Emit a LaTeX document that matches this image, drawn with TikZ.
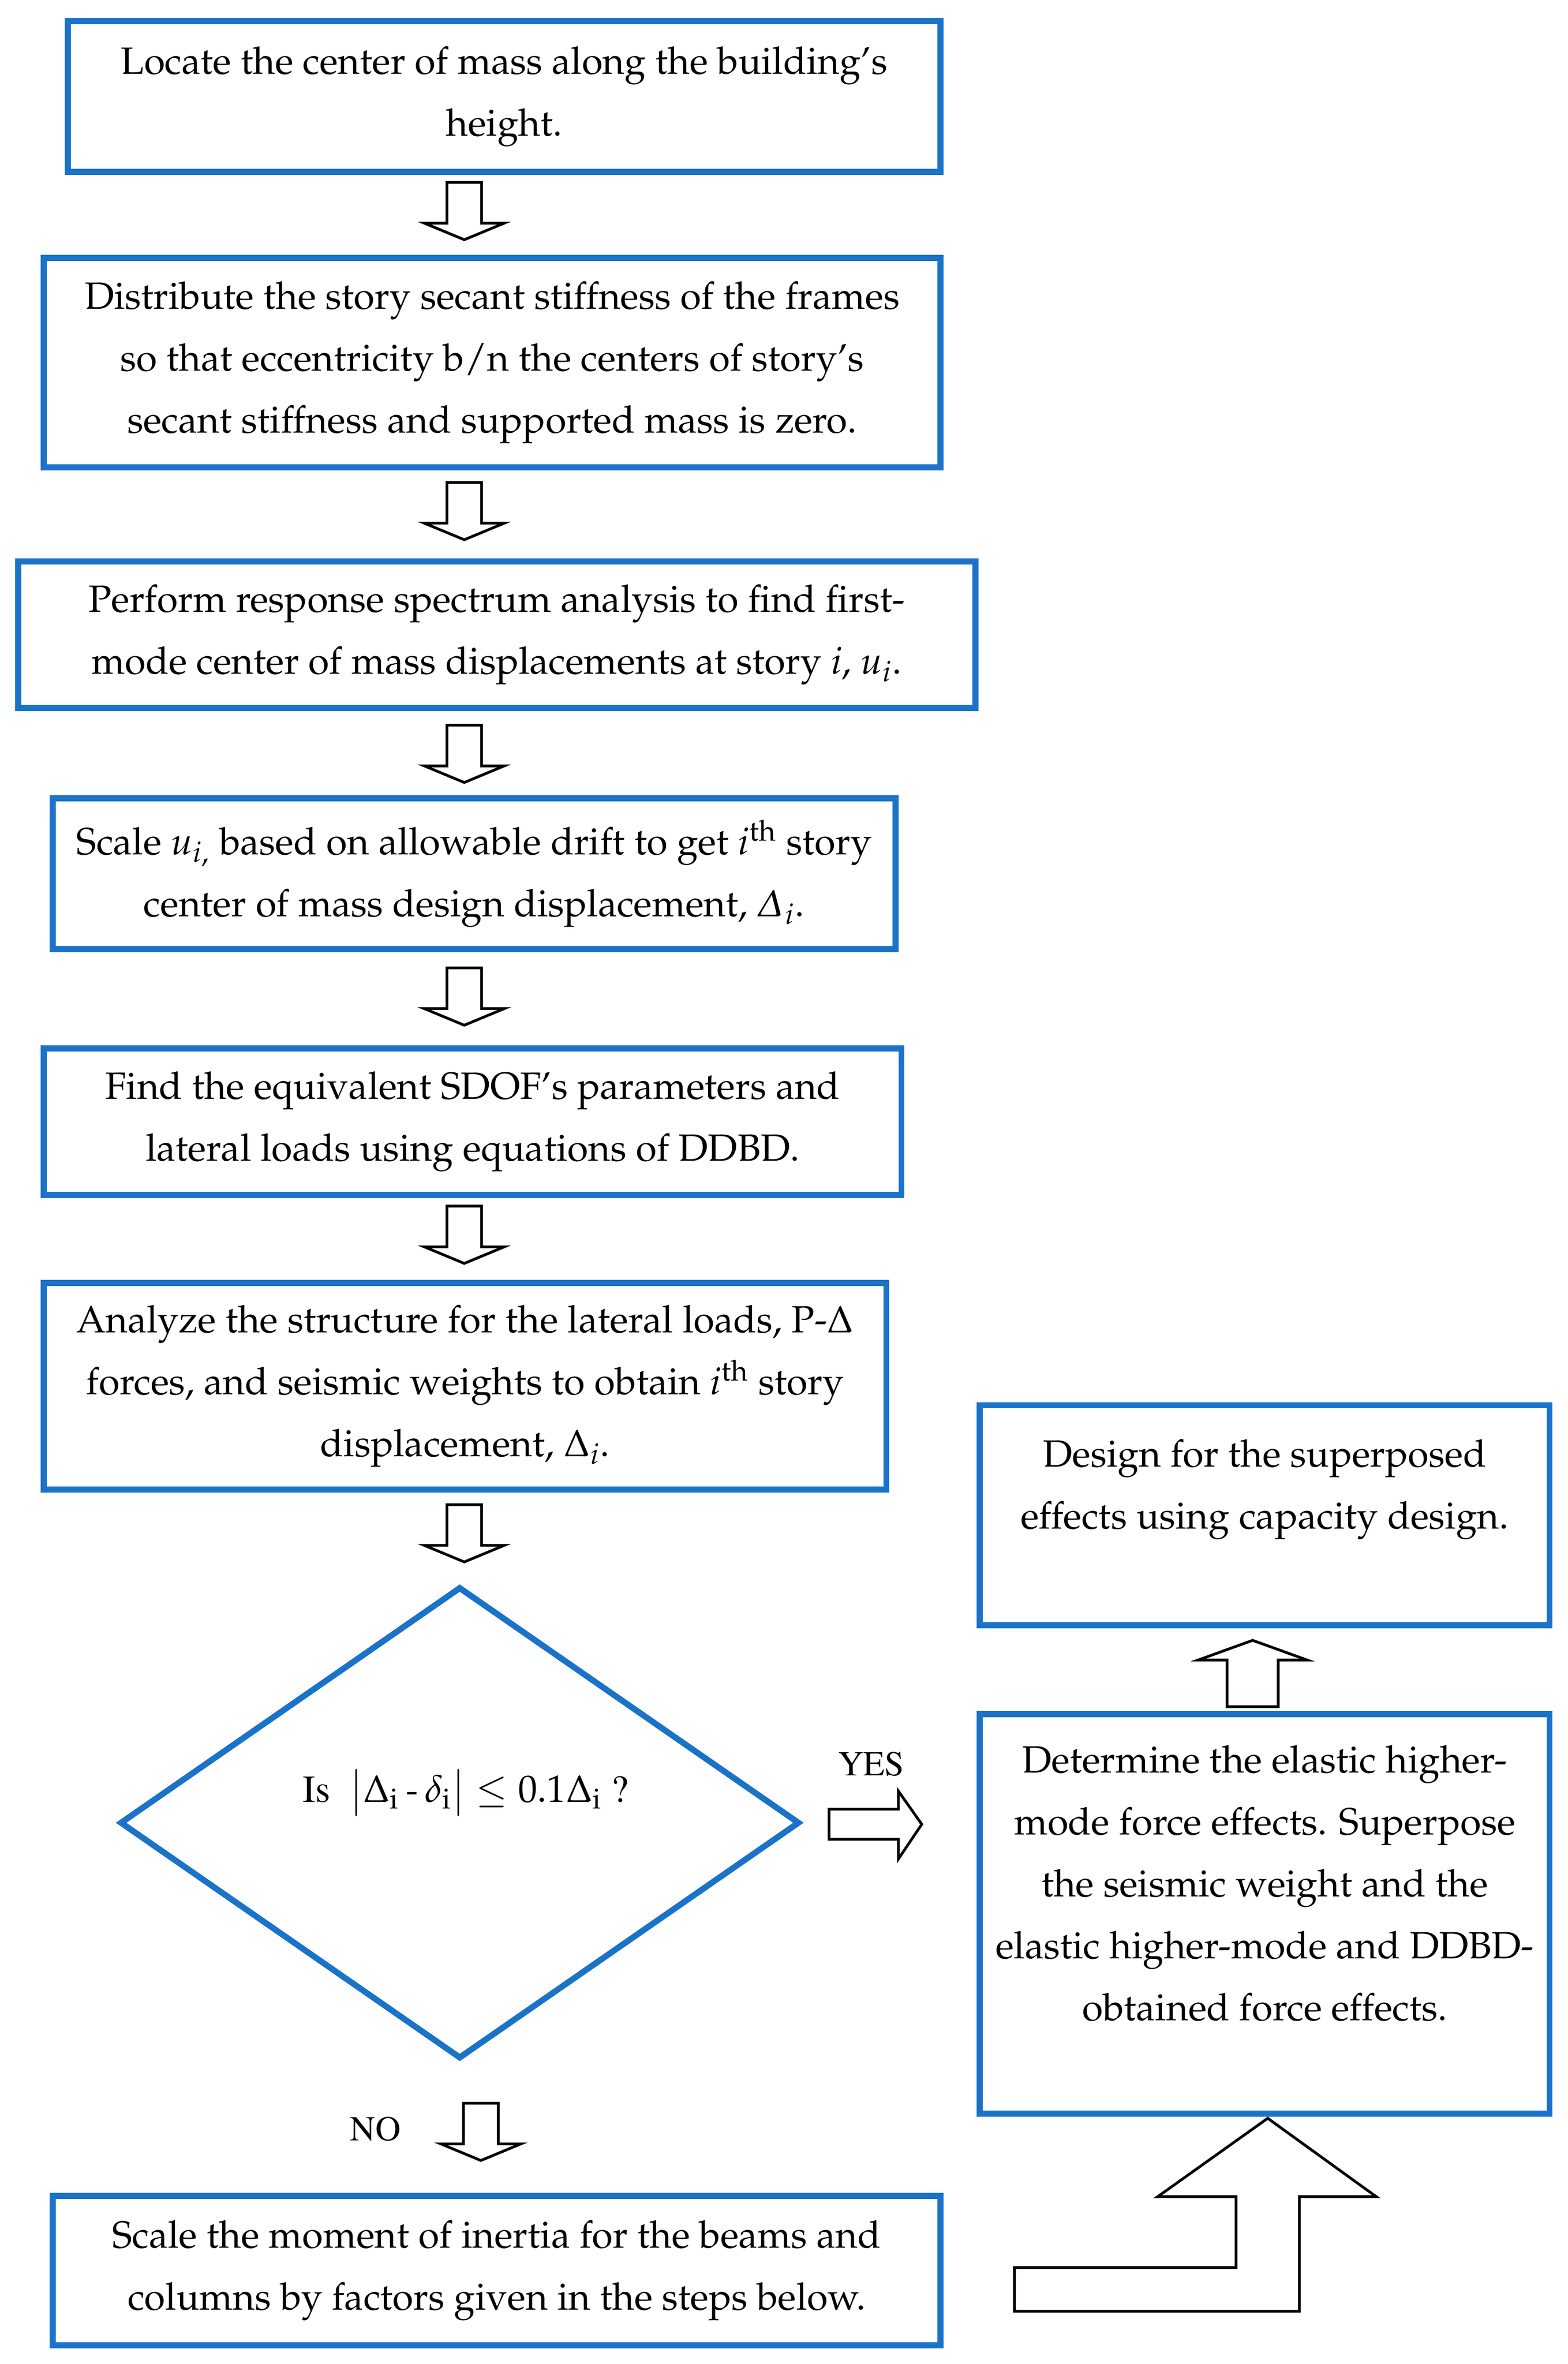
\documentclass[tikz,border=0pt]{standalone}
\usepackage[T1]{fontenc}
\usepackage{mathpazo}
\usepackage{amsmath}
\usetikzlibrary{shapes.geometric}
\definecolor{flowblue}{HTML}{1A73C8}
\newcommand{\px}{0.025cm}
% hollow block arrow pointing down, #1 = x of the axis, #2 = y of the top
\newcommand{\blockdown}[2]{
  \draw[blockarrow] (#1-11.5,#2) -- ++(23,0) -- ++(0,27) -- ++(15,0)
    -- (#1,#2+38) -- (#1-26.5,#2+27) -- ++(15,0) -- cycle;
}

\begin{document}
\begin{tikzpicture}[x=0.025cm,y=-0.025cm,
  stepbox/.style={rectangle,draw=flowblue,line width=4*\px,fill=white,align=center,inner sep=0pt,
    font=\fontsize{17.9}{29.2}\selectfont,execute at begin node={\rule{0pt}{17.5pt}}},
  sidebox/.style={stepbox,execute at begin node={}},
  decision/.style={diamond,draw=flowblue,line width=4*\px,fill=white,inner sep=0pt},
  blockarrow/.style={draw=black,line width=1.8*\px,fill=white,line join=miter},
  answer/.style={font=\fontfamily{ptm}\fontsize{16.5}{19}\selectfont}]
\useasboundingbox (0,0) rectangle (1040,1568);

  % left column
  \node [stepbox, minimum width=579*\px, minimum height=100*\px] (locate) at (334.5,64)
    {Locate the center of mass along the building's\\ height.};
  \node [stepbox, minimum width=595*\px, minimum height=139*\px] (distribute) at (326.5,240.5)
    {Distribute the story secant stiffness of the frames\\ so that eccentricity b/n the centers of story's\\ secant stiffness and supported mass is zero.};
  \node [stepbox, minimum width=635*\px, minimum height=97*\px] (spectrum) at (329.5,421)
    {Perform response spectrum analysis to find first-\\ mode center of mass displacements at story \textit{i}, $u_i$.};
  \node [stepbox, minimum width=559*\px, minimum height=100*\px] (scaleu) at (314.5,579.5)
    {Scale $u_{i,}$ based on allowable drift to get $i^{\mathrm{th}}$ story\\ center of mass design displacement, $\mathnormal{\Delta}_i$.};
  \node [stepbox, minimum width=569*\px, minimum height=97*\px] (sdof) at (313.5,744)
    {Find the equivalent SDOF's parameters and\\ lateral loads using equations of DDBD.};
  \node [stepbox, minimum width=559*\px, minimum height=137*\px] (analyze) at (308.5,919.5)
    {Analyze the structure for the lateral loads, P-$\Delta$\\ forces, and seismic weights to obtain $i^{\mathrm{th}}$ story\\ displacement, $\Delta_i$.};
  \node [decision, minimum width=451*\px, minimum height=313*\px] (check) at (305,1209) {};
  \node [answer, font=\fontfamily{ptm}\fontsize{18}{21}\selectfont] (crit) at (309,1189)
    {Is\enspace$\bigl|\Delta_{\mathrm{i}}\,\text{-}\,\delta_{\mathrm{i}}\bigr| \leq 0.1\Delta_{\mathrm{i}}$ ?};
  \node [stepbox, minimum width=589*\px, minimum height=99*\px] (inertia) at (329.5,1506)
    {Scale the moment of inertia for the beams and\\ columns by factors given in the steps below.};

  % right column
  \node [sidebox, minimum width=378*\px, minimum height=146*\px] (capacity) at (839,1005)
    {Design for the superposed\\ effects using capacity design.\\ \mbox{}};
  \node [sidebox, minimum width=378*\px, minimum height=265*\px] (higher) at (839,1269.5)
    {Determine the elastic higher-\\ mode force effects. Superpose\\ the seismic weight and the\\ elastic higher-mode and DDBD-\\ obtained force effects.\\ \mbox{}};

  % block arrows
  \foreach \y in {121,320,481,642,800,998} {
    \blockdown{308}{\y}
  }
  \blockdown{319}{1395}
  \node [answer] (no) at (249,1412) {NO};
  \node [answer] (yes) at (578,1170) {YES};
  \draw[blockarrow] (550,1200) -- (596,1200) -- (596,1188) -- (611.5,1210)
    -- (596,1233) -- (596,1220) -- (550,1220) -- cycle;
  \draw[blockarrow] (814,1132) -- (814,1101) -- (795,1101) -- (831,1088)
    -- (867,1101) -- (848,1101) -- (848,1132) -- cycle;
  \draw[blockarrow] (673,1504) -- (820,1504) -- (820,1457) -- (768,1457) -- (841,1405)
    -- (913,1457) -- (862,1457) -- (862,1533) -- (673,1533) -- cycle;

\end{tikzpicture}
\end{document}
